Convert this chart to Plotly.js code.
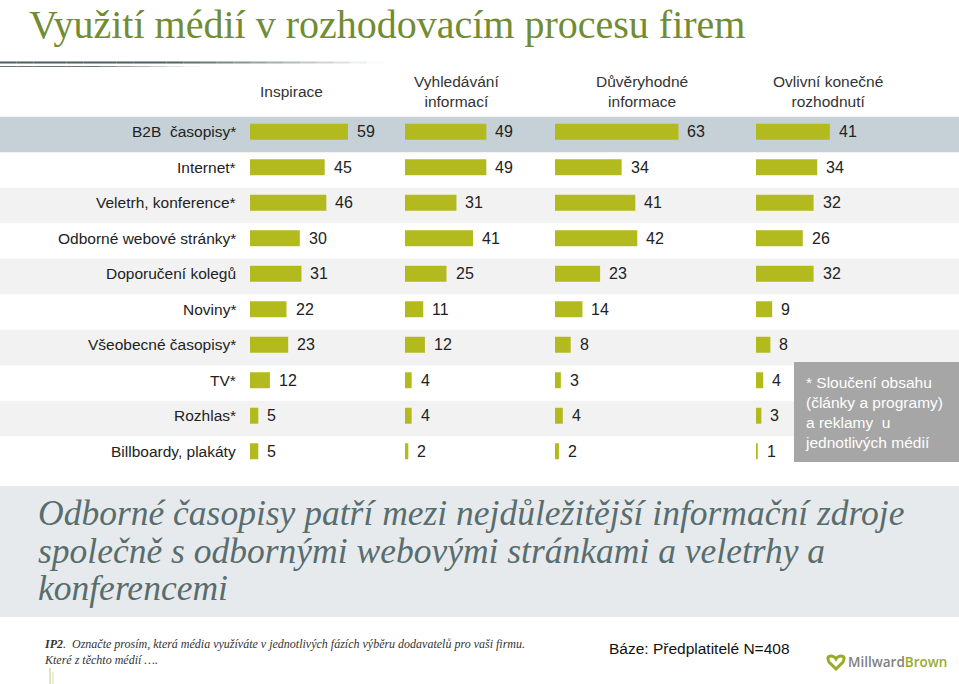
<!DOCTYPE html>
<html><head><meta charset="utf-8">
<script src="https://cdn.plot.ly/plotly-3.0.1.min.js"></script>
<style>html,body{margin:0;padding:0;background:#fff}#chart{width:959px;height:684px}</style>
</head><body><div id="chart"></div>
<script>
// ---- data ----
const categories = ['B2B  časopisy*','Internet*','Veletrh, konference*','Odborné webové stránky*','Doporučení kolegů','Noviny*','Všeobecné časopisy*','TV*','Rozhlas*','Billboardy, plakáty'];
const inspirace   = [59,45,46,30,31,22,23,12,5,5];
const vyhledavani = [49,49,31,41,25,11,12,4,4,2];
const duveryhodne = [63,34,41,42,23,14,8,3,4,2];
const ovlivni     = [41,34,32,26,32,9,8,4,3,1];
const columnHeaders = ['Inspirace','Vyhledávání<br>informací','Důvěryhodné<br>informace','Ovlivní konečné<br>rozhodnutí'];
const titleText = 'Využití médií v rozhodovacím procesu firem';
const noteText = '* Sloučení obsahu<br>(články a programy)<br>a reklamy  u<br>jednotlivých médií';
const conclusionLines = ['Odborné časopisy patří mezi nejdůležitější informační zdroje','společně s odbornými webovými stránkami a veletrhy a','konferencemi'];
const questionText = '<b>IP2</b>.  Označte prosím, která média využíváte v jednotlivých fázích výběru dodavatelů pro vaši firmu.<br>Které z těchto médií ….';
const baseText = 'Báze: Předplatitelé N=408';

// ---- layout helpers ----
const W = 959, H = 684;
const px = x => x / W;
const py = y => 1 - y / H;
const NARROW = '"Liberation Sans Narrow", "Arial Narrow", "Liberation Sans", Arial, sans-serif';
const SERIF = '"Liberation Serif", "DejaVu Serif", serif';
const BAR = '#b3ba1e';
const TXT = '#222222';

const cols = [
  {vals: inspirace,   start: 250, scale: 1.66, hx: 291, ax: 'x'},
  {vals: vyhledavani, start: 405, scale: 1.66, hx: 456, ax: 'x2'},
  {vals: duveryhodne, start: 555, scale: 1.96, hx: 642, ax: 'x3'},
  {vals: ovlivni,     start: 756, scale: 1.80, hx: 828, ax: 'x4'}
];
const colW = 148;

const traces = cols.map(c => ({
  type: 'bar', orientation: 'h',
  x: c.vals, y: categories,
  xaxis: c.ax, yaxis: 'y',
  marker: {color: BAR, line: {width: 0}},
  width: 0.45,
  hoverinfo: 'skip', showlegend: false
}));

const layout = {
  width: W, height: H,
  margin: {l: 0, r: 0, t: 0, b: 0},
  paper_bgcolor: '#ffffff', plot_bgcolor: 'rgba(0,0,0,0)',
  showlegend: false,
  title: {
    text: titleText, xref: 'paper', yref: 'container',
    x: px(29), xanchor: 'left', y: py(24), yanchor: 'middle',
    font: {family: SERIF, size: 40, color: '#718c33'}
  },
  yaxis: {type: 'category', domain: [py(469), py(114)], range: [9.5, -0.5],
          visible: false, fixedrange: true, anchor: 'x'},
  shapes: [], annotations: []
};

cols.forEach((c, i) => {
  const key = i === 0 ? 'xaxis' : 'xaxis' + (i + 1);
  layout[key] = {domain: [px(c.start), px(c.start + colW)], range: [0, colW / c.scale],
                 visible: false, fixedrange: true, anchor: 'y'};
});

// row bands
const bandOff = 0.076;
categories.forEach((cat, i) => {
  let fill = null;
  if (i === 0) fill = '#c6d1d7';
  else if (i % 2 === 0) fill = '#f2f2f2';
  if (fill) layout.shapes.push({type: 'rect', xref: 'paper', yref: 'y', x0: 0, x1: 1,
    y0: i - 0.5 + bandOff, y1: i + 0.5 + bandOff, fillcolor: fill, line: {width: 0}, layer: 'below'});
  layout.annotations.push({xref: 'paper', yref: 'y', x: px(238), y: cat, text: cat,
    xanchor: 'right', yanchor: 'middle', showarrow: false, yshift: 0,
    font: {family: NARROW, size: 15.5, color: TXT}});
});

// value labels
cols.forEach((c, ci) => {
  c.vals.forEach((v, j) => {
    layout.annotations.push({xref: c.ax, yref: 'y', x: v, y: categories[j], text: String(v),
      xanchor: 'left', yanchor: 'middle', xshift: 7, yshift: 0, showarrow: false,
      font: {family: NARROW, size: 16, color: TXT}});
  });
  layout.annotations.push({xref: 'paper', yref: 'paper', x: px(c.hx), y: py(91),
    text: columnHeaders[ci], xanchor: 'center', yanchor: 'middle', showarrow: false,
    font: {family: NARROW, size: 15.5, color: '#333333'}});
});

// title separator lines (fading)
const segs = 24;
for (let k = 0; k < segs; k++) {
  const x0 = k * 400 / segs, x1 = (k + 1) * 400 / segs;
  const mid = (x0 + x1) / 2;
  const a1 = mid < 170 ? 1 : Math.max(0, 1 - (mid - 170) / 210);
  const a2 = mid < 90 ? 1 : Math.max(0, 1 - (mid - 90) / 110);
  layout.shapes.push({type: 'line', xref: 'paper', yref: 'paper', x0: px(x0), x1: px(x1), y0: py(62.5), y1: py(62.5),
    line: {color: 'rgba(74,95,97,' + a1.toFixed(3) + ')', width: 2}});
  layout.shapes.push({type: 'line', xref: 'paper', yref: 'paper', x0: px(x0), x1: px(x1), y0: py(66.5), y1: py(66.5),
    line: {color: 'rgba(74,95,97,' + (a2 * 0.85).toFixed(3) + ')', width: 1}});
}

// note box
layout.shapes.push({type: 'rect', xref: 'paper', yref: 'paper', x0: px(794), x1: 1, y0: py(462), y1: py(362),
  fillcolor: '#a6a6a6', line: {width: 0}, layer: 'above'});
layout.annotations.push({xref: 'paper', yref: 'paper', x: px(803), y: py(412), text: noteText,
  xanchor: 'left', yanchor: 'middle', align: 'left', showarrow: false,
  font: {family: NARROW, size: 15.5, color: '#ffffff'}});

// conclusion box
layout.shapes.push({type: 'rect', xref: 'paper', yref: 'paper', x0: 0, x1: 1, y0: py(617), y1: py(486),
  fillcolor: '#e7eaec', line: {width: 0}, layer: 'below'});
const lineY = [513, 551, 588];
conclusionLines.forEach((t, i) => {
  layout.annotations.push({xref: 'paper', yref: 'paper', x: px(36), y: py(lineY[i]), text: '<i>' + t + '</i>',
    xanchor: 'left', yanchor: 'middle', showarrow: false,
    font: {family: SERIF, size: 35.5, color: '#586d6e'}});
});

// footer
layout.annotations.push({xref: 'paper', yref: 'paper', x: px(42), y: py(652), text: '<i>' + questionText + '</i>',
  xanchor: 'left', yanchor: 'middle', align: 'left', showarrow: false,
  font: {family: SERIF, size: 12, color: '#333333'}});
layout.annotations.push({xref: 'paper', yref: 'paper', x: px(607), y: py(648), text: baseText,
  xanchor: 'left', yanchor: 'middle', showarrow: false,
  font: {family: NARROW, size: 15.5, color: '#111111'}});
layout.annotations.push({xref: 'paper', yref: 'paper', x: px(846), y: py(662),
  text: '<span style="color:#7f7f7f">Millward</span><span style="color:#9aab2a">Brown</span>',
  xanchor: 'left', yanchor: 'middle', showarrow: false,
  font: {family: '"Open Sans", "Liberation Sans", sans-serif', size: 13.5, color: '#7f7f7f', weight: 600}});
// logo mark
layout.shapes.push({type: 'path', xref: 'paper', yref: 'paper',
  path: 'M ' + px(836) + ' ' + py(669) + ' L ' + px(829) + ' ' + py(662) +
        ' Q ' + px(826) + ' ' + py(656) + ' ' + px(831) + ' ' + py(656) +
        ' Q ' + px(834) + ' ' + py(656) + ' ' + px(836) + ' ' + py(659) +
        ' Q ' + px(838) + ' ' + py(656) + ' ' + px(841) + ' ' + py(656) +
        ' Q ' + px(846) + ' ' + py(656) + ' ' + px(843) + ' ' + py(662) + ' Z',
  line: {color: '#9aab2a', width: 3}, fillcolor: 'rgba(0,0,0,0)'});
// small decorative stems bottom-left
layout.shapes.push({type: 'line', xref: 'paper', yref: 'paper', x0: px(50), x1: px(50), y0: py(684), y1: py(668),
  line: {color: 'rgba(154,171,42,0.6)', width: 1}});
layout.shapes.push({type: 'line', xref: 'paper', yref: 'paper', x0: px(53), x1: px(53), y0: py(684), y1: py(672),
  line: {color: 'rgba(154,171,42,0.4)', width: 1}});

Plotly.newPlot('chart', traces, layout, {displayModeBar: false, staticPlot: true});
</script>
</body></html>
